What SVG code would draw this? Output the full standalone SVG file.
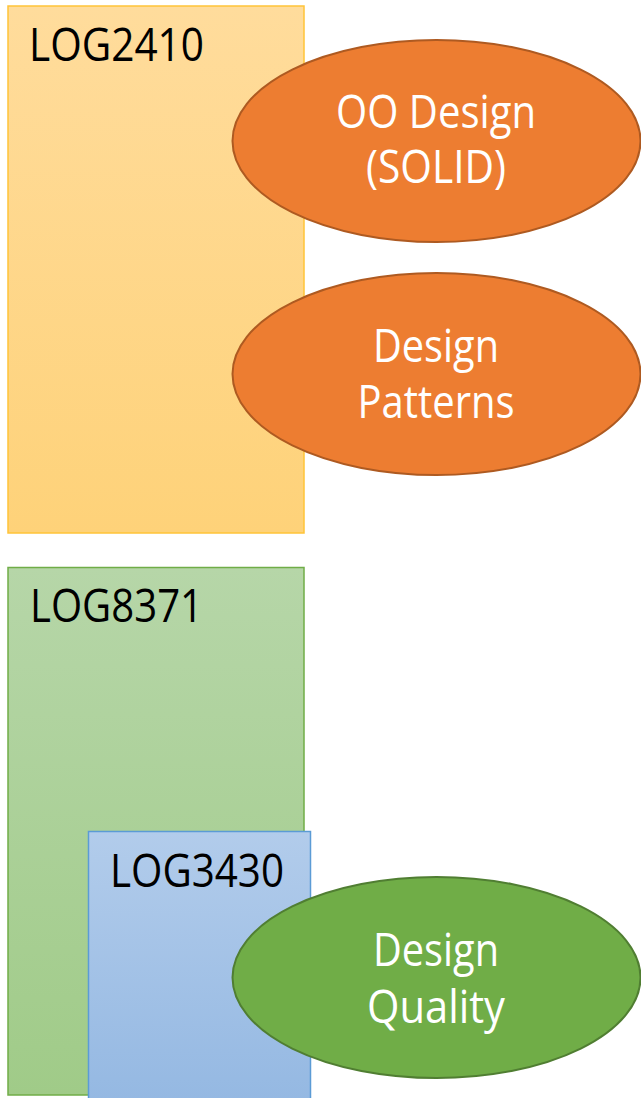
<svg xmlns="http://www.w3.org/2000/svg" width="641" height="1098" viewBox="0 0 641 1098">
<defs>
<linearGradient id="gGold" x1="0" y1="0" x2="0" y2="1"><stop offset="0" stop-color="#FFDC9C"/><stop offset="1" stop-color="#FED279"/></linearGradient>
<linearGradient id="gGreen" x1="0" y1="0" x2="0" y2="1"><stop offset="0" stop-color="#B6D6A8"/><stop offset="1" stop-color="#A0CB88"/></linearGradient>
<linearGradient id="gBlue" x1="0" y1="0" x2="0" y2="1"><stop offset="0" stop-color="#B2CCEB"/><stop offset="1" stop-color="#94B8E2"/></linearGradient>
<style>
.lbl{font-family:"Open Sans","Liberation Sans",sans-serif;font-size:45px;fill:#000}
.wl{font-family:"Open Sans","Liberation Sans",sans-serif;font-size:45px;fill:#fff;text-anchor:middle}
.oe{fill:#ED7D31;stroke:#AE5A21;stroke-width:2}
.ge{fill:#70AD47;stroke:#507E32;stroke-width:2}
</style>
</defs>
<g id="log2410">
<rect x="8" y="6" width="296" height="527" fill="url(#gGold)" stroke="#FFC439" stroke-width="1.5"/>
<text class="lbl" x="29" y="61" textLength="175" lengthAdjust="spacingAndGlyphs">LOG2410</text>
</g>
<g id="oo-design">
<ellipse class="oe" cx="436.5" cy="141" rx="204" ry="101"/>
<text class="wl" x="436" y="128" textLength="200" lengthAdjust="spacingAndGlyphs">OO Design</text>
<text class="wl" x="436" y="183" textLength="140" lengthAdjust="spacingAndGlyphs">(SOLID)</text>
</g>
<g id="design-patterns">
<ellipse class="oe" cx="436.5" cy="374" rx="204" ry="101"/>
<text class="wl" x="436" y="362" textLength="126" lengthAdjust="spacingAndGlyphs">Design</text>
<text class="wl" x="436" y="418" textLength="157" lengthAdjust="spacingAndGlyphs">Patterns</text>
</g>
<g id="log8371">
<rect x="8" y="567.5" width="296" height="527.5" fill="url(#gGreen)" stroke="#70AD47" stroke-width="1.5"/>
<text class="lbl" x="30" y="622" textLength="173" lengthAdjust="spacingAndGlyphs">LOG8371</text>
</g>
<g id="log3430">
<rect x="88.5" y="831.5" width="222" height="275" fill="url(#gBlue)" stroke="#5B9BD5" stroke-width="1.5"/>
<text class="lbl" x="110" y="887" textLength="174" lengthAdjust="spacingAndGlyphs">LOG3430</text>
</g>
<g id="design-quality">
<ellipse class="ge" cx="436.5" cy="977.5" rx="204" ry="100.5"/>
<text class="wl" x="436" y="966" textLength="126" lengthAdjust="spacingAndGlyphs">Design</text>
<text class="wl" x="436" y="1023" textLength="138" lengthAdjust="spacingAndGlyphs">Quality</text>
</g>
<g id="connectors"/>
</svg>
